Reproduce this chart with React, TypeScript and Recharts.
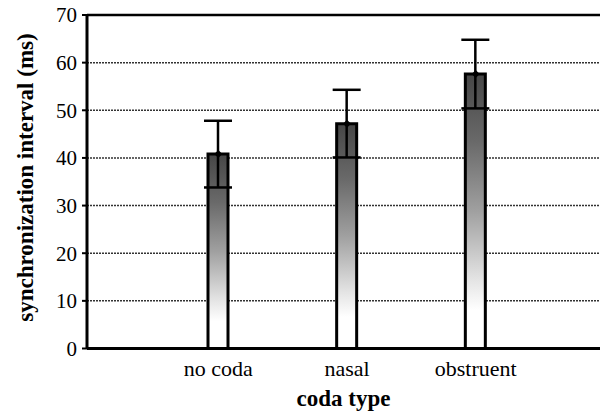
import {
  ComposedChart,
  Bar,
  Line,
  ErrorBar,
  XAxis,
  YAxis,
  CartesianGrid,
  ReferenceLine,
} from "recharts";

const categories = ["no coda", "nasal", "obstruent"];
const means = [40.8, 47.2, 57.6];
const errors = [7.0, 7.1, 7.2];
const yTicks = [0, 10, 20, 30, 40, 50, 60, 70];

const data = categories.map((name, i) => ({
  name,
  value: means[i],
  err: errors[i],
}));

const FONT = "Liberation Serif, Times New Roman, DejaVu Serif, serif";

const Diamond = (props: any) => {
  const { cx, cy } = props;
  if (cx == null || cy == null) return null;
  const r = 4;
  return (
    <path
      d={`M${cx},${cy - r}L${cx + r},${cy}L${cx},${cy + r}L${cx - r},${cy}Z`}
      fill="#000"
    />
  );
};

export default function App() {
  return (
    <div
      style={{
        position: "absolute",
        left: 0,
        top: 0,
        width: 600,
        height: 412,
        overflow: "hidden",
        background: "#fff",
        fontFamily: FONT,
      }}
    >
      <ComposedChart
        width={600}
        height={412}
        data={data}
        margin={{ top: 15, right: 0, bottom: 0, left: 0 }}
        style={{ fontFamily: FONT }}
      >
        <defs>
          <linearGradient id="barGrad" x1="0" y1="0" x2="0" y2="1">
            <stop offset="0" stopColor="#464646" />
            <stop offset="0.25" stopColor="#6a6a6a" />
            <stop offset="0.5" stopColor="#a0a0a0" />
            <stop offset="0.75" stopColor="#e4e4e4" />
            <stop offset="0.86" stopColor="#ffffff" />
            <stop offset="1" stopColor="#ffffff" />
          </linearGradient>
        </defs>
        <CartesianGrid
          vertical={false}
          stroke="#333"
          strokeWidth={1.5}
          strokeDasharray="2 1"
        />
        <XAxis
          dataKey="name"
          height={63.5}
          padding={{ left: 67, right: 60 }}
          tickLine={false}
          axisLine={{ stroke: "#000", strokeWidth: 3 }}
          tickSize={6}
          tickMargin={6}
          tick={{ fontSize: 22, fill: "#000", style: { fontFamily: FONT } }}
          label={{
            value: "coda type",
            position: "insideBottom",
            offset: 6,
            style: {
              fontSize: 23,
              fontWeight: "bold",
              fill: "#000",
              fontFamily: FONT,
            },
          }}
        />
        <YAxis
          domain={[0, 70]}
          ticks={yTicks}
          width={87}
          tickSize={5}
          tickMargin={5}
          axisLine={{ stroke: "#000", strokeWidth: 3 }}
          tickLine={{ stroke: "#000", strokeWidth: 2 }}
          tick={{ fontSize: 21, fill: "#000", style: { fontFamily: FONT } }}
          label={{
            content: () => (
              <text
                x={33}
                y={177.5}
                transform="rotate(-90 33 177.5)"
                textAnchor="middle"
                fontSize={23}
                fontWeight="bold"
                fill="#000"
                style={{ fontFamily: FONT }}
              >
                synchronization interval (ms)
              </text>
            ),
          }}
        />
        <ReferenceLine y={70} stroke="#000" strokeWidth={2.5} />
        <Bar
          dataKey="value"
          barSize={20}
          fill="url(#barGrad)"
          stroke="#000"
          strokeWidth={3}
          isAnimationActive={false}
        >
          <ErrorBar
            dataKey="err"
            width={14}
            stroke="#000"
            strokeWidth={2.5}
            direction="y"
            isAnimationActive={false}
          />
        </Bar>
        <Line
          dataKey="value"
          stroke="none"
          dot={<Diamond />}
          activeDot={false}
          isAnimationActive={false}
        />
      </ComposedChart>
    </div>
  );
}
